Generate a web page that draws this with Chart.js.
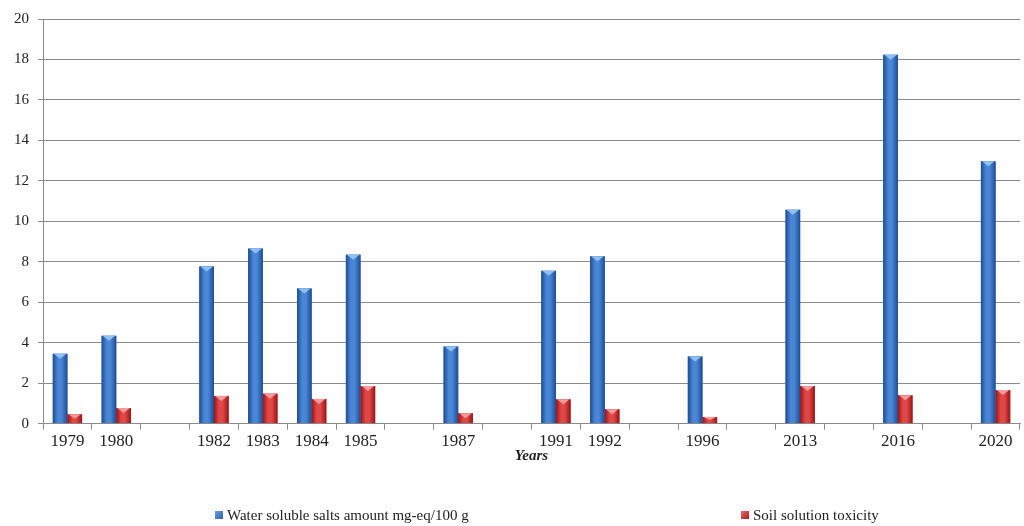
<!DOCTYPE html>
<html>
<head>
<meta charset="utf-8">
<script src="https://cdn.jsdelivr.net/npm/chart.js@4.4.1/dist/chart.umd.min.js"></script>
<style>
  html, body { margin: 0; padding: 0; background: #ffffff; }
  #wrap { position: relative; width: 1024px; height: 526px; }
  #c { position: absolute; left: 0; top: 0; }
  .leg { position: absolute; top: 506px; font-family: 'Liberation Serif', 'Times New Roman', serif;
         font-size: 15px; color: #222; white-space: nowrap; line-height: 18px; }
  .sw { display: inline-block; width: 8px; height: 8px; margin-right: 4px; vertical-align: 1px; }
</style>
</head>
<body>
<div id="wrap">
  <canvas id="c" width="1024" height="526"></canvas>
  <div class="leg" id="leg1" style="left:215px"><span class="sw" style="background:linear-gradient(135deg,#6ea0e0,#2c5fa8)"></span>Water soluble salts amount mg-eq/100 g</div>
  <div class="leg" id="leg2" style="left:741px"><span class="sw" style="background:linear-gradient(135deg,#e86a6a,#a81c1c)"></span>Soil solution toxicity</div>
</div>
<script>
// Sampling years (blank slots keep the gaps between survey periods)
const years = ['1979', '1980', '', '1982', '1983', '1984', '1985', '', '1987', '', '1991', '1992', '', '1996', '', '2013', '', '2016', '', '2020'];
// Water soluble salts amount, mg-eq/100 g
const saltsAmount = [3.45, 4.34, null, 7.77, 8.65, 6.68, 8.35, null, 3.81, null, 7.55, 8.27, null, 3.32, null, 10.57, null, 18.23, null, 12.97];
// Soil solution toxicity
const toxicity = [0.46, 0.77, null, 1.37, 1.48, 1.22, 1.86, null, 0.51, null, 1.20, 0.71, null, 0.33, null, 1.86, null, 1.40, null, 1.66];
const yTicks = [0, 2, 4, 6, 8, 10, 12, 14, 16, 18, 20];

const serif = "'Liberation Serif', 'Times New Roman', serif";

// Shaded column faces with a light bevel on top
const shades = [
  { edge: '#1d4c94', mid: '#4a86d6', cap: '#8fc0f2' },
  { edge: '#9a1414', mid: '#e04848', cap: '#f59a9a' }
];
const columnShading = {
  id: 'columnShading',
  afterDatasetsDraw(chart) {
    const ctx = chart.ctx;
    chart.data.datasets.forEach((ds, di) => {
      const meta = chart.getDatasetMeta(di);
      const s = shades[di];
      meta.data.forEach((el, i) => {
        if (ds.data[i] === null) return;
        const p = el.getProps(['x', 'y', 'base', 'width'], true);
        const l = p.x - p.width / 2, r = p.x + p.width / 2;
        const g = ctx.createLinearGradient(l, 0, r, 0);
        g.addColorStop(0, s.edge);
        g.addColorStop(0.35, s.mid);
        g.addColorStop(0.6, s.mid);
        g.addColorStop(1, s.edge);
        ctx.save();
        ctx.fillStyle = g;
        ctx.fillRect(l, p.y, p.width, p.base - p.y);
        const capH = Math.min(5, (p.base - p.y) / 2);
        ctx.fillStyle = s.cap;
        ctx.beginPath();
        ctx.moveTo(l + 1, p.y);
        ctx.lineTo(r - 1, p.y);
        ctx.lineTo(p.x, p.y + capH);
        ctx.closePath();
        ctx.fill();
        ctx.restore();
      });
    });
  }
};

new Chart(document.getElementById('c'), {
  type: 'bar',
  data: {
    labels: years,
    datasets: [
      { label: 'Water soluble salts amount mg-eq/100 g', data: saltsAmount, backgroundColor: '#3a6fc0',
        categoryPercentage: 0.6, barPercentage: 1.0 },
      { label: 'Soil solution toxicity', data: toxicity, backgroundColor: '#c83030',
        categoryPercentage: 0.6, barPercentage: 1.0 }
    ]
  },
  options: {
    responsive: false,
    animation: false,
    devicePixelRatio: 1,
    layout: { padding: { left: 5, right: 4, top: 19, bottom: 61 } },
    plugins: {
      legend: { display: false },
      tooltip: { enabled: false }
    },
    scales: {
      x: {
        grid: { display: true, drawOnChartArea: false, drawTicks: true, tickLength: 6, color: '#8a8a8a', offset: true },
        border: { display: true, color: '#8a8a8a', width: 1 },
        ticks: { font: { family: serif, size: 17 }, color: '#222', padding: 2, maxRotation: 0, autoSkip: false },
        title: { display: true, text: 'Years', font: { family: serif, size: 15, weight: 'bold', style: 'italic' }, color: '#222', padding: { top: -7, bottom: 0 } }
      },
      y: {
        min: 0, max: 20,
        afterBuildTicks(axis) { axis.ticks = yTicks.map(v => ({ value: v })); },
        grid: { color: '#8a8a8a', tickLength: 5, lineWidth: 1 },
        border: { display: true, color: '#8a8a8a', width: 1 },
        ticks: { font: { family: serif, size: 15 }, color: '#222', padding: 9 }
      }
    }
  },
  plugins: [columnShading]
});
</script>
</body>
</html>
